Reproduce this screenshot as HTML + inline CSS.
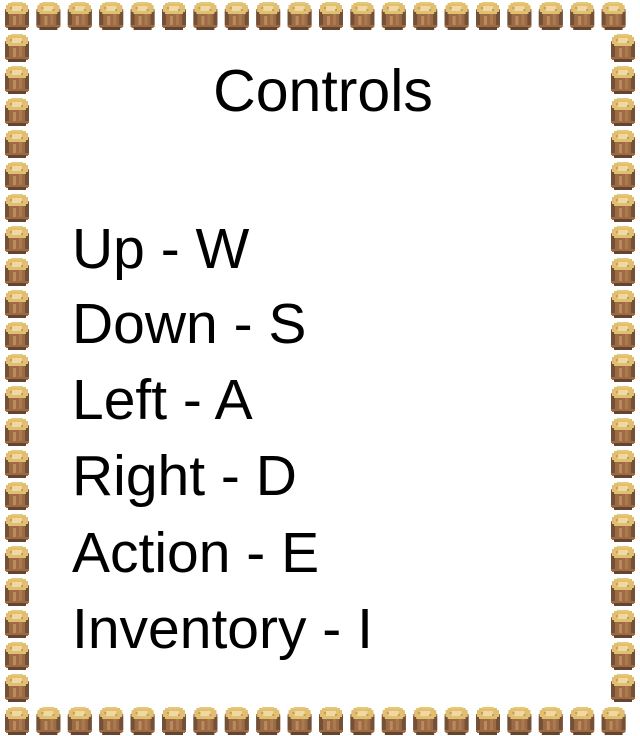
<!DOCTYPE html>
<html><head><meta charset="utf-8"><style>
html,body{margin:0;padding:0;background:#fff;}
#wrap{position:relative;width:640px;height:736px;overflow:hidden;font-family:"Liberation Sans",sans-serif;color:#000;}
svg{position:absolute;left:0;top:0;}
.t{position:absolute;white-space:nowrap;line-height:1;font-size:57px;left:72px;}
</style></head><body>
<div id="wrap">
<svg id="border" width="640" height="736">
<defs>
<g id="log">
<rect x="1" y="5" width="22" height="21" fill="#9a6b45"/>
<rect x="0" y="7" width="24" height="18" fill="#9a6b45"/>
<rect x="0" y="9" width="4" height="14" fill="#735036"/>
<rect x="20" y="9" width="4" height="14" fill="#735036"/>
<rect x="8" y="14" width="3" height="9" fill="#bd8a5c"/>
<rect x="14" y="12" width="3" height="11" fill="#ad7a50"/>
<rect x="3" y="25" width="18" height="3" fill="#654530"/>
<rect x="3" y="1" width="18" height="11" fill="#e0c070"/>
<rect x="1" y="3" width="22" height="7" fill="#e0c070"/>
<rect x="6" y="0" width="12" height="2" fill="#e6c878"/>
<rect x="7" y="4" width="10" height="5" fill="#efd9a0"/>
<rect x="5" y="5" width="2" height="2" fill="#c99860"/>
<rect x="16" y="7" width="2" height="2" fill="#c99860"/>
</g>
</defs>
</svg>
<div class="t" style="left:0;width:646px;text-align:center;top:62px;font-size:59px;">Controls</div>
<div class="t" style="top:221px;">Up - W</div>
<div class="t" style="top:296px;">Down - S</div>
<div class="t" style="top:372px;">Left - A</div>
<div class="t" style="top:448px;">Right - D</div>
<div class="t" style="top:525px;">Action - E</div>
<div class="t" style="top:601px;">Inventory - I</div>
</div>
<script>
var svg=document.getElementById('border');
var NS='http://www.w3.org/2000/svg';
function put(x,y){
  var u=document.createElementNS(NS,'use');
  u.setAttribute('href','#log');
  u.setAttribute('transform','translate('+x+','+y+')');
  
  
  svg.appendChild(u);
}
for(var i=0;i<20;i++){put(5+i*31.4,2);put(5+i*31.4,707);}
for(var j=1;j<22;j++){put(5,2+j*32);put(611,2+j*32);}
</script>
</body></html>
